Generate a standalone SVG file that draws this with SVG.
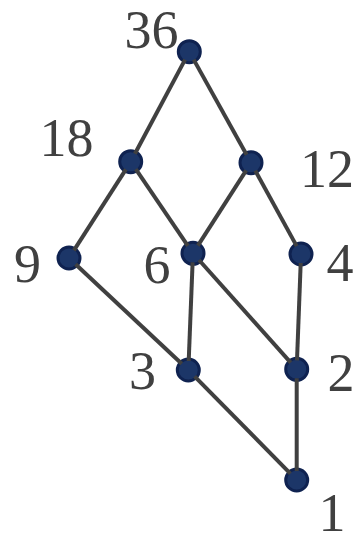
<svg xmlns="http://www.w3.org/2000/svg" width="357" height="535" viewBox="0 0 357 535">
<style>
.n{fill:#1c3668;stroke:#0f2250;stroke-width:3}
.e{stroke:#404040;stroke-width:4;fill:none}
.t{font-family:"Liberation Serif","Times New Roman",serif;font-size:54px;fill:#404040;text-anchor:middle}
</style>
<rect width="357" height="535" fill="#ffffff"/>
<g id="n36"><circle class="n" cx="189.3" cy="51.7" r="11"/><text class="t" x="151.5" y="48">36</text></g>
<g id="n18"><circle class="n" cx="130.7" cy="161.7" r="11"/><text class="t" x="66.5" y="156">18</text></g>
<g id="n12"><circle class="n" cx="251" cy="162.7" r="11"/><text class="t" x="327" y="187">12</text></g>
<g id="n9"><circle class="n" cx="69" cy="258" r="11"/><text class="t" x="27.5" y="282">9</text></g>
<g id="n6"><circle class="n" cx="193" cy="253.3" r="11"/><text class="t" x="157" y="283">6</text></g>
<g id="n4"><circle class="n" cx="301" cy="254" r="11"/><text class="t" x="340" y="281">4</text></g>
<g id="n3"><circle class="n" cx="188.3" cy="370" r="11"/><text class="t" x="142.5" y="389">3</text></g>
<g id="n2"><circle class="n" cx="296.7" cy="369.3" r="11"/><text class="t" x="341" y="391">2</text></g>
<g id="n1"><circle class="n" cx="296.7" cy="480" r="11"/><text class="t" x="332" y="531">1</text></g>
<g id="edges">
<line class="e" x1="185.1" y1="59.6" x2="134.9" y2="153.7"/>
<line class="e" x1="193.7" y1="59.6" x2="246.6" y2="154.8"/>
<line class="e" x1="125.9" y1="169.3" x2="73.9" y2="250.4"/>
<line class="e" x1="135.8" y1="169.1" x2="187.9" y2="245.9"/>
<line class="e" x1="246.2" y1="170.3" x2="197.9" y2="245.7"/>
<line class="e" x1="255.3" y1="170.6" x2="296.7" y2="246.1"/>
<line class="e" x1="75.6" y1="264.2" x2="181.7" y2="363.8"/>
<line class="e" x1="192.6" y1="262.3" x2="188.7" y2="361"/>
<line class="e" x1="199" y1="260" x2="290.7" y2="362.6"/>
<line class="e" x1="300.7" y1="263" x2="297" y2="360.3"/>
<line class="e" x1="194.6" y1="376.4" x2="290.4" y2="473.6"/>
<line class="e" x1="296.7" y1="378.3" x2="296.7" y2="471"/>
</g>
</svg>
